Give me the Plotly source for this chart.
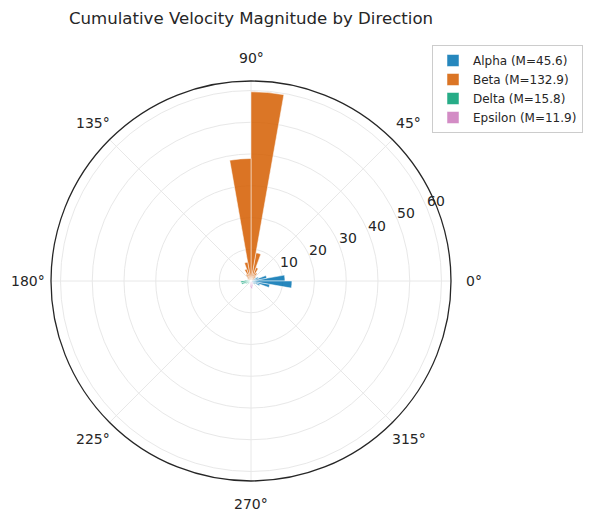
"""Polar bar chart: cumulative velocity magnitude by direction."""

import math

import plotly.graph_objects as go

# 10-degree direction bins, centres 5..355
bin_centers = [5 + 10 * i for i in range(36)]

alpha_vals = [
    10.7, 5.0, 2.5, 1.2, 0.8, 0.5, 0.0, 0.0, 0.0, 0.0, 0.0, 0.0,
    0.0, 0.0, 0.0, 0.0, 0.0, 0.0, 0.0, 0.0, 0.0, 0.0, 0.0, 0.0,
    0.0, 0.0, 0.0, 0.0, 0.0, 0.0, 0.5, 1.0, 1.5, 3.0, 6.0, 12.9,
]
beta_vals = [
    0.0, 0.0, 0.0, 1.2, 2.0, 3.0, 4.5, 9.0, 59.6, 38.6, 6.0, 4.0,
    2.5, 1.5, 1.0, 0.0, 0.0, 0.0, 0.0, 0.0, 0.0, 0.0, 0.0, 0.0,
    0.0, 0.0, 0.0, 0.0, 0.0, 0.0, 0.0, 0.0, 0.0, 0.0, 0.0, 0.0,
]
delta_vals = [
    0.0, 0.0, 0.0, 0.0, 0.0, 0.0, 0.0, 0.0, 0.0, 0.0, 0.0, 0.0,
    0.2, 0.3, 0.4, 0.6, 1.2, 2.0, 3.2, 3.0, 1.8, 1.2, 0.8, 0.5,
    0.3, 0.3, 0.0, 0.0, 0.0, 0.0, 0.0, 0.0, 0.0, 0.0, 0.0, 0.0,
]
epsilon_vals = [
    0.0, 0.0, 0.0, 0.0, 0.0, 0.0, 0.0, 0.0, 0.0, 0.0, 0.0, 0.0,
    0.0, 0.0, 0.0, 0.0, 0.0, 0.0, 0.0, 0.0, 0.0, 0.3, 0.4, 0.6,
    0.8, 1.0, 2.0, 2.4, 1.8, 1.2, 0.7, 0.5, 0.2, 0.0, 0.0, 0.0,
]

series = [
    ("Alpha", alpha_vals, "#0173b2"),
    ("Beta", beta_vals, "#d55e00"),
    ("Delta", delta_vals, "#029e73"),
    ("Epsilon", epsilon_vals, "#cc78bc"),
]

radial_ticks = [10, 20, 30, 40, 50, 60]
angle_ticks = [0, 45, 90, 135, 180, 225, 270, 315]
R_MAX = 63
RADIAL_LABEL_ANGLE = 22.5

FONT = "DejaVu Sans"
TEXT = "#262626"
W, H = 594, 522

# polar area in figure pixels (the page body adds an 8px offset on screen)
CX, CY, RADIUS = 243, 273, 200
LABEL_PAD = 23


def paper_xy(dist_px, angle_deg, perp_px=0.0):
    """Paper coords of a point dist_px from the centre at angle_deg."""
    rad = math.radians(angle_deg)
    dx = dist_px * math.cos(rad) - perp_px * math.sin(rad)
    dy = dist_px * math.sin(rad) + perp_px * math.cos(rad)
    return (CX + dx) / W, 1 - (CY - dy) / H


fig = go.Figure()

for name, vals, color in series:
    fig.add_trace(
        go.Barpolar(
            r=vals,
            theta=bin_centers,
            width=10,
            name=f"{name} (M={sum(vals):.1f})",
            marker=dict(color=color, line=dict(color="white", width=0.5)),
            opacity=0.85,
        )
    )

# tick labels placed like matplotlib: centred, at a fixed offset
tick_labels = []
for a in angle_ticks:
    x, y = paper_xy(RADIUS + LABEL_PAD, a)
    tick_labels.append(dict(text=f"{a}°", x=x, y=y))
for t in radial_ticks:
    x, y = paper_xy(t * RADIUS / R_MAX + 10.7, RADIAL_LABEL_ANGLE, 3)
    tick_labels.append(dict(text=str(t), x=x, y=y))
for ann in tick_labels:
    ann.update(
        xref="paper",
        yref="paper",
        xanchor="center",
        yanchor="middle",
        showarrow=False,
        font=dict(size=14, family=FONT, color=TEXT),
    )

fig.update_layout(
    width=W,
    height=H,
    margin=dict(l=0, r=0, t=0, b=0),
    paper_bgcolor="white",
    font=dict(family=FONT, color=TEXT, size=14),
    title=dict(
        text="Cumulative Velocity Magnitude by Direction",
        x=CX / W,
        xanchor="center",
        y=1 - 10 / H,
        yanchor="middle",
        font=dict(size=16.6, family=FONT, color=TEXT),
    ),
    annotations=tick_labels,
    polar=dict(
        domain=dict(
            x=[(CX - RADIUS) / W, (CX + RADIUS) / W],
            y=[1 - (CY + RADIUS) / H, 1 - (CY - RADIUS) / H],
        ),
        bgcolor="white",
        barmode="overlay",
        radialaxis=dict(
            range=[0, R_MAX],
            tickvals=radial_ticks,
            showticklabels=False,
            angle=RADIAL_LABEL_ANGLE,
            showline=False,
            ticks="",
            gridcolor="#e8e8e8",
            gridwidth=1,
        ),
        angularaxis=dict(
            rotation=0,
            direction="counterclockwise",
            tickvals=angle_ticks,
            showticklabels=False,
            ticks="",
            showline=True,
            linecolor="#262626",
            linewidth=1.3,
            gridcolor="#e8e8e8",
            gridwidth=1,
        ),
    ),
    legend=dict(
        x=424 / W,
        y=1 - 37 / H,
        xanchor="left",
        yanchor="top",
        bgcolor="white",
        bordercolor="#cccccc",
        borderwidth=1,
        font=dict(size=12, family=FONT, color=TEXT),
        tracegroupgap=0,
    ),
)

fig.write_html("out.html")
